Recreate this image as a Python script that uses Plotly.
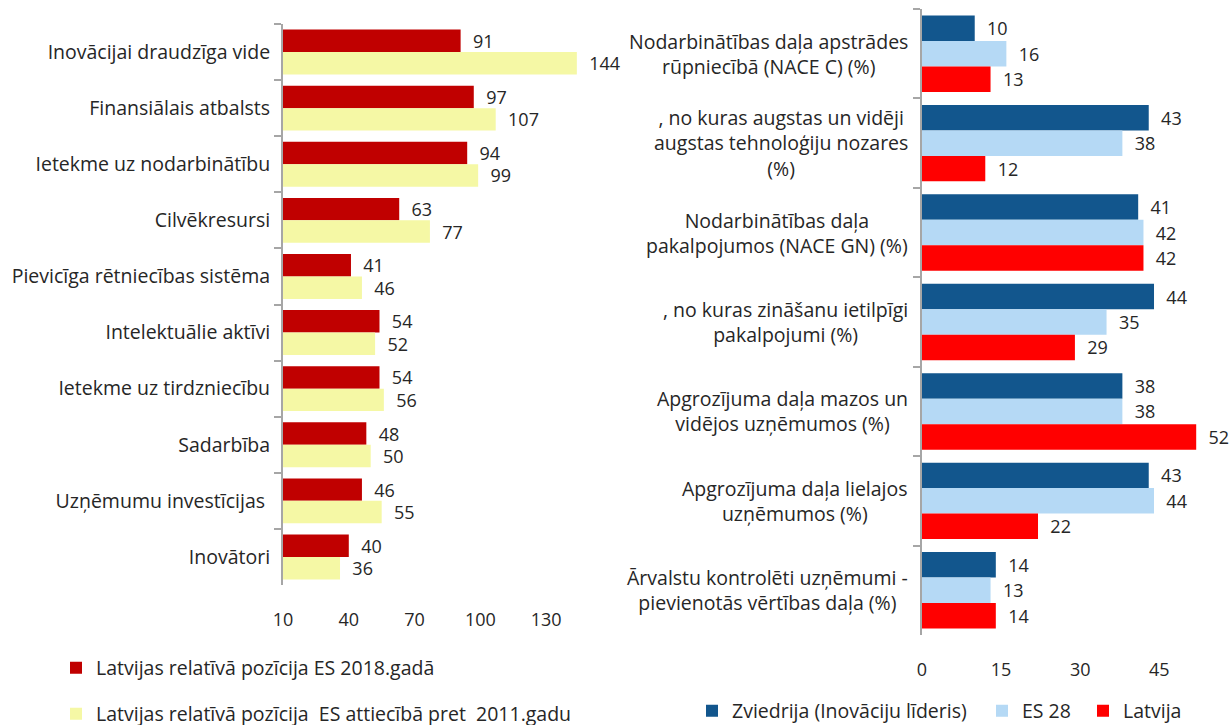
import plotly.graph_objects as go

# ---------------- data ----------------
left_categories = [
    "Inovācijai draudzīga vide",
    "Finansiālais atbalsts",
    "Ietekme uz nodarbinātību",
    "Cilvēkresursi",
    "Pievicīga rētniecības sistēma",
    "Intelektuālie aktīvi",
    "Ietekme uz tirdzniecību",
    "Sadarbība",
    "Uzņēmumu investīcijas ",
    "Inovātori",
]
lv_2018 = [91, 97, 94, 63, 41, 54, 54, 48, 46, 40]
lv_vs_2011 = [144, 107, 99, 77, 46, 52, 56, 50, 55, 36]
left_series_names = [
    "Latvijas relatīvā pozīcija ES 2018.gadā",
    "Latvijas relatīvā pozīcija\u00a0 ES attiecībā pret\u00a0 2011.gadu",
]
left_ticks = [10, 40, 70, 100, 130]

right_categories = [
    "Nodarbinātības daļa apstrādes<br>rūpniecībā (NACE C) (%)",
    ", no kuras augstas un vidēji<br>augstas tehnoloģiju nozares<br>(%)",
    "Nodarbinātības daļa<br>pakalpojumos (NACE GN) (%)",
    ", no kuras zināšanu ietilpīgi<br>pakalpojumi (%)",
    "Apgrozījuma daļa mazos un<br>vidējos uzņēmumos (%)",
    "Apgrozījuma daļa lielajos<br>uzņēmumos (%)",
    "Ārvalstu kontrolēti uzņēmumi -<br>pievienotās vērtības daļa (%)",
]
sweden = [10, 43, 41, 44, 38, 43, 14]
eu28 = [16, 38, 42, 35, 38, 44, 13]
latvia = [13, 12, 42, 29, 52, 22, 14]
right_series_names = ["Zviedrija (Inovāciju līderis)", "ES 28", "Latvija"]
right_ticks = [0, 15, 30, 45]

# ---------------- style ----------------
W, H = 1231, 725
FONT = "Open Sans"
FS = 19.5               # category / legend text
FSN = 18                # numbers
TXT = "#262626"
AX = "#A6A6A6"


def px_x(p):
    return p / W


def px_y(p):
    return 1 - p / H


fig = go.Figure()

# left chart bars
left_colors = ["#C00000", "#F5F8A5"]
left_offsets = [-0.4, 0.0]
left_legends = ["legend", "legend2"]
for vals, name, col, off, lg in zip([lv_2018, lv_vs_2011], left_series_names,
                                    left_colors, left_offsets, left_legends):
    fig.add_trace(go.Bar(
        x=vals, y=left_categories, orientation="h", name=name,
        marker=dict(color=col, line=dict(width=0)),
        width=0.4, offset=off,
        text=vals, texttemplate="\u00a0\u00a0%{x}", textposition="outside",
        textfont=dict(family=FONT, size=FSN, color=TXT),
        cliponaxis=False, constraintext="none",
        xaxis="x", yaxis="y", legend=lg, hoverinfo="skip",
    ))

# right chart bars
right_colors = ["#12568D", "#B5D9F5", "#FF0000"]
right_legends = ["legend3", "legend4", "legend5"]
bw = 0.285
right_offsets = [-1.5 * bw, -0.5 * bw, 0.5 * bw]
for vals, name, col, off, lg in zip([sweden, eu28, latvia], right_series_names,
                                    right_colors, right_offsets, right_legends):
    fig.add_trace(go.Bar(
        x=vals, y=right_categories, orientation="h", name=name,
        marker=dict(color=col, line=dict(width=0)),
        width=bw, offset=off,
        text=vals, texttemplate="\u00a0\u00a0%{x}", textposition="outside",
        textfont=dict(family=FONT, size=FSN, color=TXT),
        cliponaxis=False, constraintext="none",
        xaxis="x2", yaxis="y2", legend=lg, hoverinfo="skip",
    ))

# right category labels (centered multi-line, right anchored)
annotations = []
for i, lab in enumerate(right_categories):
    annotations.append(dict(
        text=lab, xref="paper", yref="y2", x=px_x(910), y=i,
        xanchor="right", yanchor="middle", align="center", showarrow=False,
        font=dict(family=FONT, size=FS, color=TXT),
    ))

yax_common = dict(
    type="category", autorange="reversed", showgrid=False, zeroline=False,
    showline=True, linecolor=AX, linewidth=2,
    ticks="outside", tickson="boundaries", ticklen=7, tickcolor=AX, tickwidth=2,
    tickfont=dict(family=FONT, size=FS, color=TXT), ticklabelstandoff=7,
    automargin=False,
)
xax_common = dict(
    showgrid=False, zeroline=False, showline=False, ticks="",
    tickfont=dict(family=FONT, size=FSN, color=TXT), ticklabelstandoff=22,
    automargin=False,
)

leg_common = dict(xanchor="left", yanchor="middle", bgcolor="rgba(0,0,0,0)",
                  font=dict(family=FONT, size=FS, color=TXT))

fig.update_layout(
    width=W, height=H,
    margin=dict(l=0, r=0, t=0, b=0, autoexpand=False),
    paper_bgcolor="white", plot_bgcolor="white",
    font=dict(family=FONT, size=FS, color=TXT),
    barmode="overlay",
    xaxis=dict(domain=[px_x(283), px_x(590)], range=[10, 150],
               tickvals=left_ticks, anchor="y", **xax_common),
    yaxis=dict(domain=[px_y(585), px_y(24)], anchor="x",
               categoryorder="array", categoryarray=left_categories, **yax_common),
    xaxis2=dict(domain=[px_x(922), 1.0], range=[0, 58.6],
                tickvals=right_ticks, anchor="y2", **xax_common),
    yaxis2=dict(domain=[px_y(635), px_y(9)], anchor="x2", showticklabels=False,
                categoryorder="array", categoryarray=right_categories, **yax_common),
    annotations=annotations,
    legend=dict(x=px_x(56), y=px_y(668), **leg_common),
    legend2=dict(x=px_x(56), y=px_y(714), **leg_common),
    legend3=dict(x=px_x(692), y=px_y(711), **leg_common),
    legend4=dict(x=px_x(982), y=px_y(711), **leg_common),
    legend5=dict(x=px_x(1083), y=px_y(711), **leg_common),
    showlegend=True,
)

# remove the default page margin / scrollbars so the figure fills the window exactly
page_js = (
    "document.documentElement.style.margin='0';"
    "document.documentElement.style.overflow='hidden';"
    "document.body.style.margin='0';"
    "document.body.style.overflow='hidden';"
)
fig.write_html("out.html", config={"displayModeBar": False}, post_script=page_js)
